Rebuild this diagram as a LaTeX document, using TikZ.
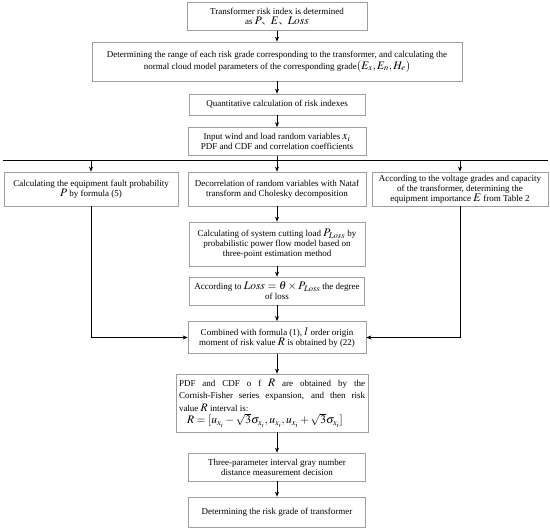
\documentclass[tikz,border=0pt]{standalone}
\usepackage{mathptmx}
\usepackage[no-math]{fontspec}
\setmainfont{Liberation Serif}
\newfontfamily\cjk{Noto Sans CJK SC}
\usetikzlibrary{calc}
\usetikzlibrary{positioning}
\usetikzlibrary{arrows.meta}
\definecolor{boxgray}{rgb}{0.62,0.62,0.62}
\newcommand{\riskmath}[1]{{\fontsize{11.5}{11}\selectfont$#1$}}

\begin{document}
\begin{tikzpicture}[%
  x=1pt, y=-1pt,
  >={Stealth[length=5pt,width=4pt]},
  box/.style={draw=boxgray, line width=0.7pt, align=center, inner sep=1pt,
    font=\fontsize{9}{10}\selectfont},
  flow/.style={->, line width=0.8pt},
]

  \useasboundingbox (0,0) rectangle (550,532);

  \node[box, minimum width=180, minimum height=28] (risk) at (277,16.5)
    {Transformer risk index is determined\\ as \riskmath{P}{\cjk 、}\riskmath{E}{\cjk 、}\riskmath{Loss}};
  \node[box, minimum width=370, minimum height=39] (range) at (277,61.5)
    {Determining the range of each risk grade corresponding to the transformer, and calculating the\\
     normal cloud model parameters of the corresponding grade\riskmath{\left(E_x, E_n, H_e\right)}};
  \node[box, minimum width=176, minimum height=21] (quant) at (277,104.5)
    {Quantitative calculation of risk indexes};
  \node[box, minimum width=178, minimum height=28] (input) at (277,141.5)
    {Input wind and load random variables \riskmath{x_i}\\ PDF and CDF and correlation coefficients};

  \coordinate (split) at (277,160);
  \coordinate (hl) at (3,160);
  \coordinate (hr) at (548,160);

  \node[box, minimum width=174, minimum height=34] (fault) at (91,189)
    {Calculating the equipment fault probability\\ \riskmath{P}\ by formula (5)};
  \node[box, minimum width=178, minimum height=34] (decor) at (277,189)
    {Decorrelation of random variables with Nataf\\ transform and Cholesky decomposition};
  \node[box, minimum width=176, minimum height=34] (import) at (460,189)
    {According to the voltage grades and capacity\\ of the transformer, determining the\\
     equipment importance \riskmath{E}\ from Table 2};

  \node[box, minimum width=176, minimum height=44] (cut) at (277,244)
    {Calculating of system cutting load \riskmath{P_{Loss}} by\\ probabilistic power flow model based on\\
     three-point estimation method};
  \node[box, minimum width=175, minimum height=28] (loss) at (277,291)
    {According to \riskmath{Loss=\theta\times P_{Loss}} the degree\\ of loss};
  \node[box, minimum width=178, minimum height=32] (combine) at (277,337.5)
    {Combined with formula (1), \riskmath{l}\ order origin\\ moment of risk value \riskmath{R}\ is obtained by (22)};
  \node[box, minimum width=192, minimum height=58, text width=186, align=justify,
    font=\fontsize{9}{12.5}\selectfont] (pdf) at (272,403)
    {PDF and CDF o f \riskmath{R} are obtained by the\linebreak Cornish-Fisher series expansion, and then risk\linebreak
     value \riskmath{R} interval is:\\
     \hspace*{8pt}\riskmath{R=[u_{x_i}-\sqrt{3}\sigma_{x_i},u_{x_i},u_{x_i}+\sqrt{3}\sigma_{x_i}]}};
  \node[box, minimum width=177, minimum height=28] (gray) at (277,467)
    {Three-parameter interval gray number\\ distance measurement decision};
  \node[box, minimum width=177, minimum height=30] (grade) at (277,512)
    {Determining the risk grade of transformer};

  \draw[flow] (risk) -- (range);
  \draw[flow] (range) -- (quant);
  \draw[flow] (quant) -- (input);
  \draw[line width=0.8pt] (input) -- (split);
  \draw[line width=0.8pt] (hl) -- (hr);
  \draw[flow] (fault |- split) -- (fault);
  \draw[flow] (split) -- (decor);
  \draw[flow] (import |- split) -- (import);
  \draw[flow] (decor) -- (cut);
  \draw[flow] (cut) -- (loss);
  \draw[flow] (loss) -- (combine);
  \draw[flow] (fault) |- (combine);
  \draw[flow] (import) |- (combine);
  \draw[flow] (combine) -- (combine |- pdf.north);
  \draw[flow] (gray |- pdf.south) -- (gray);
  \draw[flow] (gray) -- (grade);

\end{tikzpicture}
\end{document}
